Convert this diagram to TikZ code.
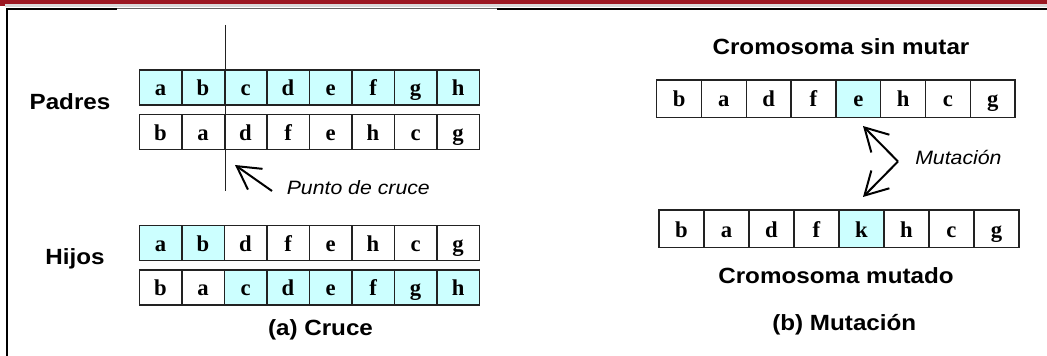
\documentclass[tikz,border=0pt]{standalone}
\usepackage{fontspec}
\usetikzlibrary{arrows.meta}
\newfontfamily\labelfont{Liberation Sans}[FakeStretch=1.1]
\newfontfamily\genefont{Liberation Serif}
\definecolor{gene}{HTML}{CCFFFF}
\definecolor{bandred}{HTML}{9B1722}
\definecolor{edge}{HTML}{222222}
\tikzset{
  cell/.style={draw=edge, line width=1.1pt, inner sep=0pt, outer sep=0pt,
    font=\genefont\bfseries\fontsize{17}{17}\selectfont,
    text height=12.2pt, text depth=0pt},
  xcell/.style={cell, minimum width={42.5*0.75pt}, minimum height={35*0.75pt}},
  mcell/.style={cell, minimum width={44.9*0.75pt}, minimum height={37.5*0.75pt}},
  heading/.style={font=\labelfont\bfseries\fontsize{16.5}{16.5}\selectfont, inner sep=0pt},
  note/.style={font=\labelfont\itshape\fontsize{14.5}{14.5}\selectfont, inner sep=0pt},
  pointer/.style={line width=1.5pt, -{Straight Barb[length=17pt,width=19pt]}},
}
\begin{document}
\begin{tikzpicture}[x=0.75pt,y=-0.75pt]
\useasboundingbox (0,0) rectangle (1047,356);
\fill[white] (0,0) rectangle (1047,356);

% page header band and frame
\fill[bandred] (0,0) rectangle (1047,4);
\fill[bandred] (0,0) rectangle (5,6.5);
\fill[black!15] (5,4) rectangle (1047,7);
\draw[line width=1.5pt] (7,356) -- (7,9) -- (117,9);
\draw[line width=0.7pt, black!60] (117,8.6) -- (497,8.6);
\draw[line width=1.5pt] (497,9) -- (1047,9);

% ---------- (a) crossover ----------
\foreach \l/\f [count=\i] in {a/gene,b/gene,c/gene,d/gene,e/gene,f/gene,g/gene,h/gene}
  \node[xcell, fill=\f] (pa-\i) at ({139.3+42.5*(\i-0.5)},87.5) {\l};
\foreach \l/\f [count=\i] in {b/white,a/white,d/white,f/white,e/white,h/white,c/white,g/white}
  \node[xcell, fill=\f] (pb-\i) at ({139.3+42.5*(\i-0.5)},132.2) {\l};
\foreach \l/\f [count=\i] in {a/gene,b/gene,d/white,f/white,e/white,h/white,c/white,g/white}
  \node[xcell, fill=\f] (ha-\i) at ({139.3+42.5*(\i-0.5)},243) {\l};
\foreach \l/\f [count=\i] in {b/white,a/white,c/gene,d/gene,e/gene,f/gene,g/gene,h/gene}
  \node[xcell, fill=\f] (hb-\i) at ({139.3+42.5*(\i-0.5)},287.5) {\l};

\node[heading, anchor=base] (padres) at (70,110) {Padres};
\node[heading, anchor=base] (hijos) at (75,265) {Hijos};

% crossover point
\coordinate (cutTop) at (225.5,25);
\coordinate (cutBot) at (225.5,191);
\draw[line width=1.3pt, edge] (cutTop) -- (cutBot);
\coordinate (crossTail) at (272,191);
\coordinate (crossTip) at (235,165);
\draw[pointer] (crossTail) -- (crossTip);
\node[note, anchor=base west] (cruceLbl) at (286.5,195) {Punto de cruce};

\node[heading, anchor=base] (capA) at (320.5,335.5) {(a) Cruce};

% ---------- (b) mutation ----------
\node[heading, anchor=base] (sinMutar) at (841,55) {Cromosoma sin mutar};
\foreach \l/\f [count=\i] in {b/white,a/white,d/white,f/white,e/gene,h/white,c/white,g/white}
  \node[mcell, fill=\f] (ma-\i) at ({656.7+44.8*(\i-0.5)},98.7) {\l};
\foreach \l/\f [count=\i] in {b/white,a/white,d/white,f/white,k/gene,h/white,c/white,g/white}
  \node[mcell, fill=\f] (mb-\i) at ({659+45*(\i-0.5)},228.9) {\l};

\coordinate (mutVertex) at (898,161.5);
\coordinate (mutUp) at (863,126);
\coordinate (mutDown) at (863,197);
\draw[pointer] (mutVertex) -- (mutUp);
\draw[pointer] (mutVertex) -- (mutDown);
\node[note, anchor=base west] (mutLbl) at (915,165) {Mutación};

\node[heading, anchor=base] (mutado) at (836,284) {Cromosoma mutado};
\node[heading, anchor=base] (capB) at (844.3,330.5) {(b) Mutación};
\end{tikzpicture}
\end{document}
